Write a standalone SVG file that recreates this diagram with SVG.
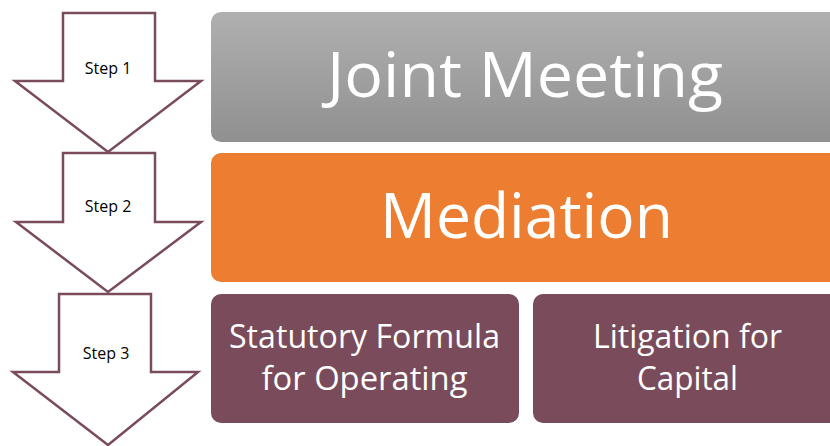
<svg xmlns="http://www.w3.org/2000/svg" width="830" height="446" viewBox="0 0 830 446">
  <defs>
    <linearGradient id="grayGrad" x1="0" y1="0" x2="0" y2="1">
      <stop offset="0" stop-color="#b0b0b0"/>
      <stop offset="1" stop-color="#909090"/>
    </linearGradient>
    <style>
      .arrow { fill: #ffffff; stroke: #7a4b5a; stroke-width: 2.5; stroke-linejoin: miter; }
      .step { font-family: "Open Sans", "Noto Sans", sans-serif; font-size: 16px; fill: #000000; text-anchor: middle; }
      .big { font-family: "Open Sans", "Noto Sans", sans-serif; font-size: 63px; fill: #ffffff; text-anchor: middle; }
      .mid { font-family: "Open Sans", "Noto Sans", sans-serif; font-size: 33px; fill: #ffffff; text-anchor: middle; }
    </style>
  </defs>
  <rect width="830" height="446" fill="#ffffff"/>

  <g id="step1">
    <polygon class="arrow" points="63,13 155,13 155,81 201,81 108,152 15,81 63,81"/>
    <text class="step" x="108" y="74">Step 1</text>
  </g>
  <g id="step2">
    <polygon class="arrow" points="63,153 155,153 155,222 201,222 108,292 16,222 63,222"/>
    <text class="step" x="108" y="212">Step 2</text>
  </g>
  <g id="step3">
    <polygon class="arrow" points="59,294 151,294 151,372 198,372 108,445 13,372 59,372"/>
    <text class="step" x="106" y="359">Step 3</text>
  </g>

  <g id="joint-meeting">
    <rect x="211" y="12" width="628" height="130" rx="10" fill="url(#grayGrad)"/>
    <text class="big" x="525" y="97" textLength="396" lengthAdjust="spacingAndGlyphs">Joint Meeting</text>
  </g>
  <g id="mediation">
    <rect x="211" y="153" width="630" height="129" rx="10" fill="#ed7d31"/>
    <text class="big" x="526.5" y="238" textLength="293" lengthAdjust="spacingAndGlyphs">Mediation</text>
  </g>
  <g id="statutory-formula">
    <rect x="211" y="294" width="308" height="129" rx="10" fill="#7a4b5a"/>
    <text class="mid" x="364.5" y="348" textLength="271" lengthAdjust="spacingAndGlyphs">Statutory Formula</text>
    <text class="mid" x="364.5" y="390" textLength="206" lengthAdjust="spacingAndGlyphs">for Operating</text>
  </g>
  <g id="litigation">
    <rect x="533" y="294" width="309" height="129" rx="10" fill="#7a4b5a"/>
    <text class="mid" x="687.5" y="348" textLength="189" lengthAdjust="spacingAndGlyphs">Litigation for</text>
    <text class="mid" x="687.5" y="390" textLength="101" lengthAdjust="spacingAndGlyphs">Capital</text>
  </g>

  <g id="connectors"/>
</svg>
